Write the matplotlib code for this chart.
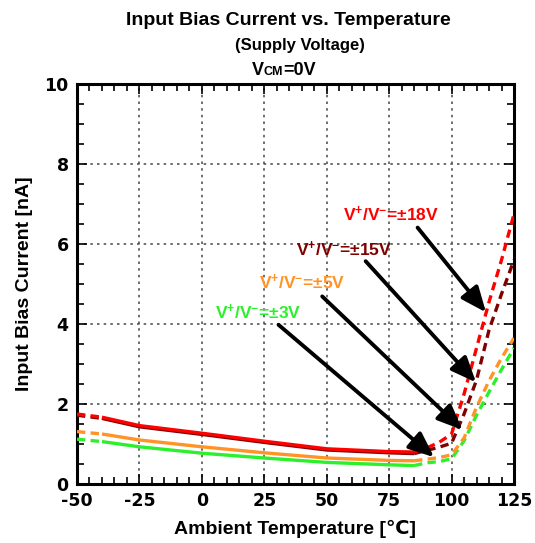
import matplotlib
matplotlib.use("Agg")
import matplotlib.pyplot as plt
import numpy as np
from matplotlib.offsetbox import TextArea, HPacker, AnnotationBbox
from matplotlib.ticker import MultipleLocator

plt.rcParams['axes.unicode_minus'] = False
plt.rcParams['mathtext.fontset'] = 'custom'
plt.rcParams['mathtext.rm'] = 'Liberation Sans:bold'
plt.rcParams['mathtext.bf'] = 'Liberation Sans:bold'
plt.rcParams['mathtext.it'] = 'Liberation Sans:bold'

# ---------------- data ----------------
temps = [-50, -40, -25, 0, 25, 50, 75, 85, 90, 95, 100, 105, 110, 115, 120, 125]
ib_18v = [1.75, 1.67, 1.46, 1.27, 1.07, 0.88, 0.81, 0.80, 0.90, 1.04, 1.25, 2.25, 3.40, 4.55, 5.60, 6.75]
ib_15v = [1.72, 1.64, 1.43, 1.24, 1.04, 0.85, 0.78, 0.76, 0.84, 0.92, 1.02, 1.75, 2.60, 3.85, 4.75, 5.60]
ib_5v  = [1.31, 1.25, 1.10, 0.93, 0.78, 0.65, 0.59, 0.58, 0.62, 0.66, 0.73, 1.15, 1.92, 2.58, 3.15, 3.65]
ib_3v  = [1.12, 1.06, 0.93, 0.77, 0.65, 0.54, 0.48, 0.46, 0.53, 0.56, 0.63, 1.08, 1.72, 2.30, 2.86, 3.40]

series_labels = ["V$^{+}$/V$^{-}$=\u00b13V", "V$^{+}$/V$^{-}$=\u00b15V",
                 "V$^{+}$/V$^{-}$=\u00b115V", "V$^{+}$/V$^{-}$=\u00b118V"]
series_values = [ib_3v, ib_5v, ib_15v, ib_18v]
series_colors = ['#2cf02c', '#ff9326', '#800000', '#ff0000']

# label anchor (text center), arrow start, arrow tip  (data coords)
label_pos   = [(22.7, 4.29), (40.2, 5.03), (56.8, 5.86), (75.6, 6.74)]
arrow_start = [(30.7, 3.98), (48.2, 4.69), (65.6, 5.57), (86.4, 6.41)]
arrow_tip   = [(93.0, 0.67), (104.4, 1.35), (109.8, 2.54), (113.8, 4.29)]

x_ticks = [-50, -25, 0, 25, 50, 75, 100, 125]
y_ticks = [0, 2, 4, 6, 8, 10]

# ---------------- figure ----------------
W, H = 535, 543
fig = plt.figure(figsize=(W / 100, H / 100), dpi=100)
ax = fig.add_axes([77 / W, (H - 484) / H, (514 - 77) / W, (484 - 84) / H])

t = np.array(temps)
solid_mask = (t >= -40) & (t <= 85)
low_mask = t <= -40
high_mask = t >= 85

for i in [0, 1, 2, 3]:
    v = np.array(series_values[i])
    c = series_colors[i]
    z = 3 + i
    ax.plot(t[solid_mask], v[solid_mask], color=c, lw=2.4, solid_capstyle='butt', zorder=z)
    ax.plot(t[low_mask], v[low_mask], color=c, lw=2.4, ls=(0, (2.5, 1.6)), zorder=z)
    ax.plot(t[high_mask], v[high_mask], color=c, lw=2.4, ls=(0, (2.5, 1.6)), zorder=z)

for i in range(4):
    ax.text(label_pos[i][0], label_pos[i][1], series_labels[i], color=series_colors[i],
            fontsize=12.5, fontweight='bold', family='Liberation Sans',
            ha='center', va='center', zorder=10)
    ax.annotate('', xy=arrow_tip[i], xytext=arrow_start[i],
                arrowprops=dict(arrowstyle='-|>,head_length=0.9,head_width=0.38',
                                lw=2.8, color='black', shrinkA=0, shrinkB=0,
                                mutation_scale=17),
                zorder=11)

ax.set_xlim(-50, 125)
ax.set_ylim(0, 10)
ax.set_xticks(x_ticks)
ax.set_yticks(y_ticks)
ax.xaxis.set_minor_locator(MultipleLocator(5))
ax.yaxis.set_minor_locator(MultipleLocator(0.5))
ax.tick_params(which='both', direction='in', top=True, right=True, width=1.2, color='black')
ax.tick_params(which='major', length=7, pad=6)
ax.tick_params(which='minor', length=5)
for lab in ax.get_xticklabels() + ax.get_yticklabels():
    lab.set_fontfamily('DejaVu Sans')
    lab.set_fontweight('bold')
    lab.set_fontsize(12.5)

ax.grid(True, which='major', color='#555555', ls=(0, (1.5, 2.5)), lw=1.2)
for s in ax.spines.values():
    s.set_linewidth(2.2)

lab_font = dict(fontsize=14, fontweight='bold', family=['Liberation Sans', 'DejaVu Sans'])
ax.set_xlabel('Ambient Temperature [\u2103]', labelpad=7, **lab_font)
ax.set_ylabel('Input Bias Current [nA]', labelpad=8, **lab_font)

fig.text(288 / W, 1 - 20.5 / H, 'Input Bias Current vs. Temperature', ha='center', va='center',
         fontsize=14, fontweight='bold', family='Liberation Sans')
fig.text(300 / W, 1 - 45.5 / H, '(Supply Voltage)', ha='center', va='center',
         fontsize=12, fontweight='bold', family='Liberation Sans')

ta1 = TextArea('V', textprops=dict(fontsize=13, fontweight='bold', family='Liberation Sans'))
ta2 = TextArea('CM', textprops=dict(fontsize=9, fontweight='bold', family='Liberation Sans'))
ta3 = TextArea('=0V', textprops=dict(fontsize=13, fontweight='bold', family='Liberation Sans'))
pack = HPacker(children=[ta1, ta2, ta3], align='baseline', pad=0, sep=0)
ab = AnnotationBbox(pack, (284 / W, 1 - 70.5 / H), xycoords='figure fraction', frameon=False,
                    box_alignment=(0.5, 0.5))
fig.add_artist(ab)

fig.savefig('out.png', dpi=100)
